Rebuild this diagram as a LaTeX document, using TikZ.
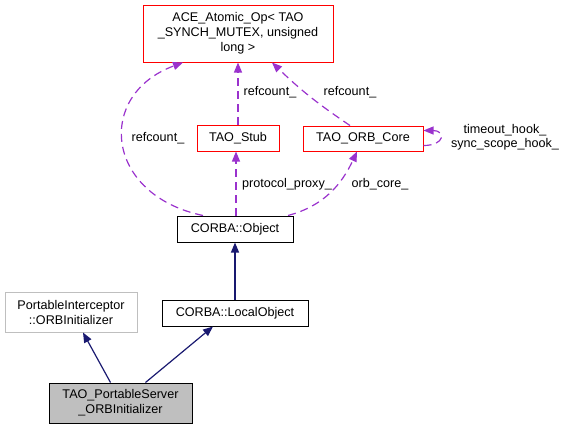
\documentclass[tikz,border=0pt]{standalone}
\usepackage{fontspec}
\setmainfont{Liberation Sans}
\usepackage{tikz}
\usetikzlibrary{arrows.meta,positioning,calc}
\definecolor{credD}{HTML}{FF0000}
\definecolor{cgreyD}{HTML}{BFBFBF}
\definecolor{cgrey}{HTML}{BFBFBF}
\definecolor{cinh}{HTML}{191970}
\definecolor{cuse}{HTML}{9A32CD}
\tikzset{
  cbox/.style={draw, align=center, inner sep=2pt, line width=1pt,
               font=\fontsize{12.6}{15}\selectfont},
  nred/.style={cbox, draw=credD, fill=white},
  nplain/.style={cbox, draw=black, fill=white},
  next/.style={cbox, draw=cgreyD, fill=white},
  nself/.style={cbox, draw=black, fill=cgrey},
  elab/.style={inner sep=0pt, align=center, font=\fontsize{12.6}{14}\selectfont},
  inh/.style={-{Triangle[length=10pt,width=8pt,fill=cinh]}, line width=1.2pt, draw=cinh},
  use/.style={-{Triangle[length=10pt,width=8pt,fill=cuse]}, line width=1.2pt, draw=cuse,
              dash pattern=on 8pt off 5pt},
}
\begin{document}
\begin{tikzpicture}[x=1pt, y=-1pt]
  \useasboundingbox (0,0) rectangle (566,429);
  \node[nred, minimum width=190pt, minimum height=57pt] (ace) at (238,33.5)
    {ACE\_Atomic\_Op< TAO\\\_SYNCH\_MUTEX, unsigned\\long >};
  \node[nred, minimum width=82pt, minimum height=26pt] (stub) at (238,138) {TAO\_Stub};
  \node[nred, minimum width=120pt, minimum height=25pt] (core) at (363,138.5) {TAO\_ORB\_Core};
  \node[nplain, minimum width=116pt, minimum height=26pt] (obj) at (235,229) {CORBA::Object};
  \node[nplain, minimum width=146pt, minimum height=26pt] (local) at (235,313) {CORBA::LocalObject};
  \node[next, minimum width=132pt, minimum height=40pt] (pi) at (71,312)
    {PortableInterceptor\\::ORBInitializer};
  \node[nself, minimum width=143pt, minimum height=40pt] (tps) at (120.5,403)
    {TAO\_PortableServer\\\_ORBInitializer};
  \node[elab] (l1) at (158,138) {refcount\_};
  \node[elab] (l2) at (270,92) {refcount\_};
  \node[elab] (l3) at (350,92) {refcount\_};
  \node[elab] (l4) at (287,184) {protocol\_proxy\_};
  \node[elab] (l5) at (380,184) {orb\_core\_};
  \node[elab] (l6) at (505,137.5) {timeout\_hook\_\\sync\_scope\_hook\_};
  \draw[use] ($(obj.north)+(-32,0)$) .. controls (105,195) and (95,95) .. ($(ace.south)+(-55,0)$);
  \draw[use] (stub.north) -- (ace.south);
  \draw[use] ($(core.north)+(-13,0)$) to[bend left=5] ($(ace.south)+(34,0)$);
  \draw[use] ($(obj.north)+(1,0)$) -- ($(stub.south)+(-2,0)$);
  \draw[use] ($(obj.north)+(53,0)$) to[out=15, in=-115] ($(core.south)+(-6,0)$);
  \draw[use] ($(core.east)+(0,7)$) .. controls ($(core.east)+(22,7)$) and ($(core.east)+(22,-8)$) .. ($(core.east)+(0,-8)$);
  \draw[inh] (local.north) -- (obj.south);
  \draw[inh] ($(tps.north)+(-10,0)$) -- ($(pi.south)+(12,0)$);
  \draw[inh] ($(tps.north)+(25,0)$) -- ($(local.south)+(-22,0)$);
\end{tikzpicture}
\end{document}
